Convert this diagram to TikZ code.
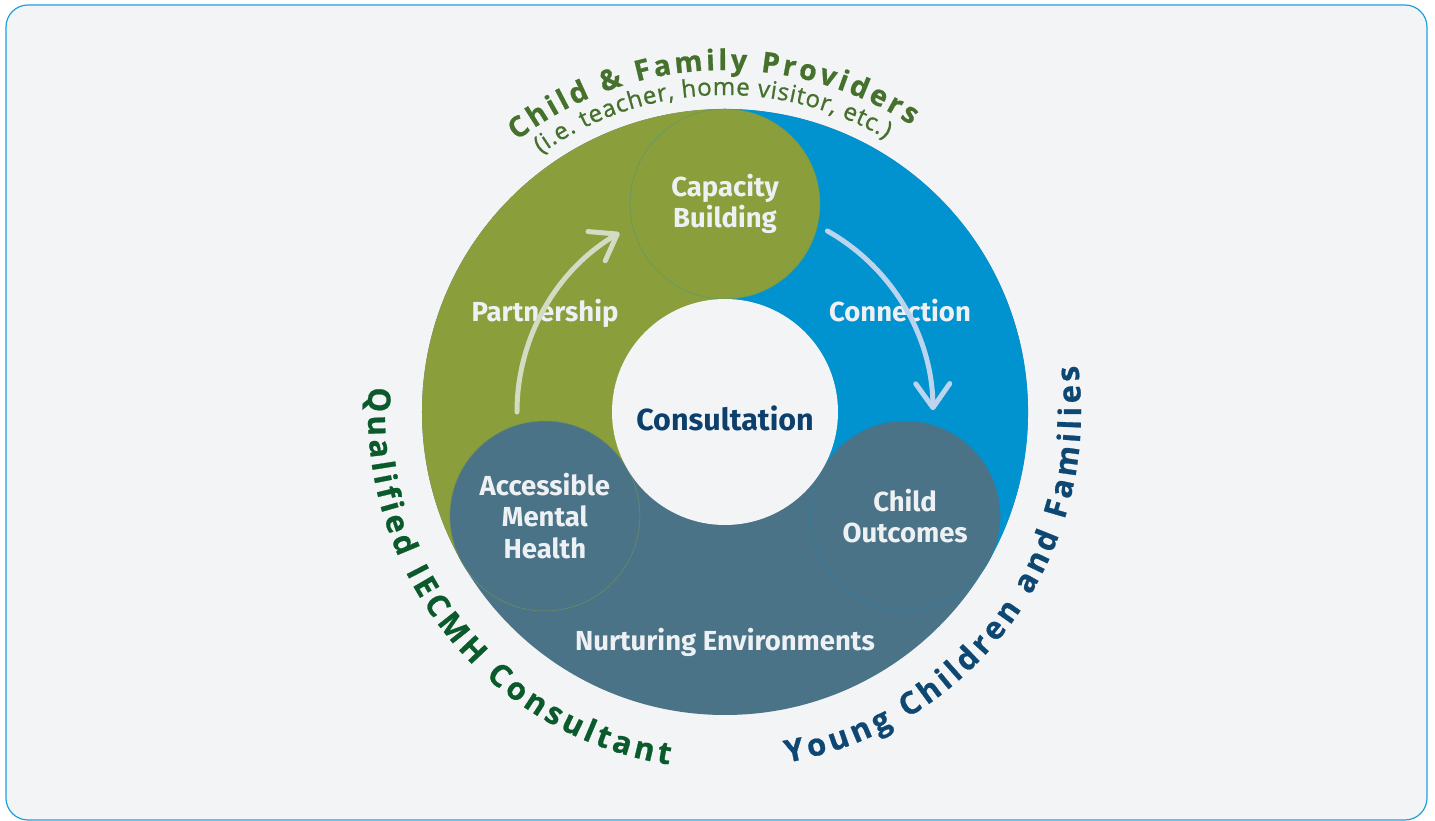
\documentclass[tikz,border=0pt]{standalone}
\usepackage{fontspec}
\setmainfont{Fira Sans}
\newfontfamily\arcfont{Open Sans}[BoldFeatures={FakeBold=0.8}]
\newfontfamily\arcsubfont{Open Sans}[FakeBold=0.9]
\usetikzlibrary{arrows.meta,decorations.text}

\definecolor{pagebg}{HTML}{F2F4F6}
\definecolor{framecol}{HTML}{1DA1DC}
\definecolor{olivec}{HTML}{8A9E3B}
\definecolor{bluec}{HTML}{0093CF}
\definecolor{slatec}{HTML}{4B7387}
\definecolor{labelc}{HTML}{EEF1F4}
\definecolor{navyc}{HTML}{0C3F6C}
\definecolor{provc}{HTML}{46712D}
\definecolor{consc}{HTML}{0B5A2B}
\definecolor{famc}{HTML}{0E4772}
\definecolor{arrowLc}{HTML}{D5DAC3}
\definecolor{arrowRc}{HTML}{BCD5EE}

\newcommand\labelfont{\bfseries\fontsize{27.5}{31.5}\selectfont}
\newcommand\hubfont{\bfseries\fontsize{30.5}{34}\selectfont}
\newcommand\provfont{\arcfont\bfseries\fontsize{28.5}{28.5}\selectfont}
\newcommand\subfont{\arcsubfont\fontsize{24}{24}\selectfont}
\newcommand\sidefont{\arcfont\bfseries\fontsize{31}{31}\selectfont}

\begin{document}
\begin{tikzpicture}[x=1pt,y=1pt,
  disc/.style={circle, minimum size=190pt, inner sep=0pt, text=labelc,
    font=\labelfont, align=center, line width=0.5pt},
  lbl/.style={text=labelc, font=\labelfont, align=center},
  flow/.style={line width=5pt, line cap=round,
    -{Straight Barb[round,length=24pt,width=34pt]}},
  arctext/.style={decorate, decoration={text along path, text align={fit to path}}}
]
% canvas and frame
\useasboundingbox (-725,-409) rectangle (710,412);
\fill[white] (-725,-409) rectangle (710,412);
\draw[framecol, line width=1.2pt, fill=pagebg, rounded corners=22pt]
  (-719,-408) rectangle (702,407);

% ring: slate base, olive and blue sectors
\fill[slatec] (0,0) circle (303);
\fill[olivec] (0,0) -- (90:303) arc[start angle=90, end angle=210, radius=303] -- cycle;
\fill[bluec] (0,0) -- (-30:303) arc[start angle=-30, end angle=90, radius=303] -- cycle;

% the three discs
\node[disc, fill=olivec, draw=bluec!35!olivec] (cap) at (90:208) {Capacity\\Building};
\node[disc, fill=slatec, draw=olivec!60!slatec] (amh) at (210:208) {Accessible\\Mental\\Health};
\node[disc, fill=slatec, draw=bluec!45!slatec] (out) at (-30:208) {Child\\Outcomes};

% hub
\node[circle, minimum size=226pt, inner sep=0pt, fill=pagebg] (hub) at (0,0) {};
\node[text=navyc, font=\hubfont] (hubtext) at (0,-6) {Consultation};

% side labels
\node[lbl] (part) at (-180,99) {Partnership};
\node[lbl] (conn) at (175,101) {Connection};
\node[lbl] (nurt) at (0,-230) {Nurturing Environments};

% flow arrows
\coordinate (lstart) at (180:208);
\coordinate (rstart) at (60.5:208);
\draw[flow, arrowLc] (lstart) arc[start angle=180, end angle=120.5, radius=208];
\draw[flow, arrowRc] (rstart) arc[start angle=60.5, end angle=0.5, radius=208];

% curved titles
\path[arctext, decoration={text color=provc, text={|\provfont|Child {\&} Family Providers}}]
  (127.5:342) arc[start angle=127.5, end angle=57, radius=342];
\path[arctext, decoration={text color=provc, text={|\subfont|(i.e. teacher, home visitor, etc.)}}]
  (125.5:317) arc[start angle=125.5, end angle=59.5, radius=317];
\path[arctext, decoration={text color=consc, text={|\sidefont|Qualified IECMH Consultant}}]
  (176:357) arc[start angle=176, end angle=261, radius=357];
\path[arctext, decoration={text color=famc, text={|\sidefont|Young Children and Families}}]
  (280:356) arc[start angle=280, end angle=367.5, radius=356];
\end{tikzpicture}
\end{document}
